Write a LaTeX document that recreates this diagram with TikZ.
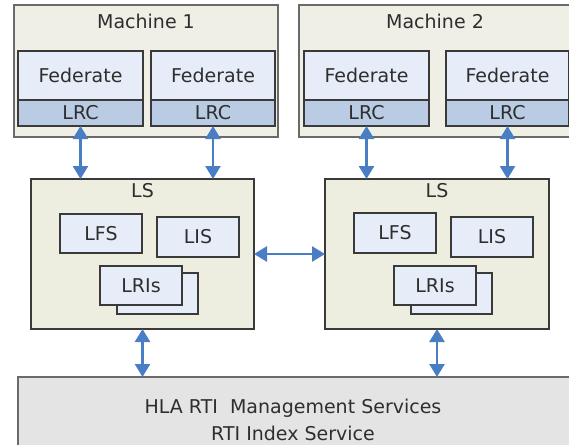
\documentclass[tikz,border=0pt]{standalone}
\usepackage{fontspec}
\setmainfont{DejaVu Sans}
\usetikzlibrary{arrows.meta}
\definecolor{machfill}{HTML}{EFEFE6}
\definecolor{lsfill}{HTML}{EEEEE0}
\definecolor{fedfill}{HTML}{E6ECF8}
\definecolor{lrcfill}{HTML}{B9CCE4}
\definecolor{rtifill}{HTML}{E4E4E4}
\definecolor{edgegray}{HTML}{6A6A6A}
\definecolor{edgedark}{HTML}{3A3A3A}
\definecolor{arrowblue}{HTML}{4A7EC4}
\definecolor{txt}{HTML}{2E2E2E}
\tikzset{
  base/.style={inner sep=0pt, outer sep=0pt, text=txt, font=\fontsize{19}{22}\selectfont},
  outerbox/.style={base, draw=edgegray, line width=1.8pt, fill=machfill},
  lsbox/.style={base, draw=edgedark, line width=1.5pt, fill=lsfill},
  fedbox/.style={base, draw=edgedark, line width=1.4pt, fill=fedfill},
  lrcbox/.style={base, draw=edgedark, line width=1.4pt, fill=lrcfill},
  rtibox/.style={base, draw=edgegray, line width=1.6pt, fill=rtifill},
  lbl/.style={base, align=center},
  link/.style={draw=arrowblue, line width=2.6pt,
    {Triangle[width=15pt,length=13pt]}-{Triangle[width=15pt,length=13pt]}}
}
\begin{document}
\begin{tikzpicture}[x=1pt,y=-1pt]
\useasboundingbox (0,0) rectangle (569,444);
\clip (0,0) rectangle (569,444);
% machines
\node[outerbox, minimum width=264pt, minimum height=132pt] (m1) at (146,71) {};
\node[lbl] (m1t) at (146,21) {Machine 1};
\node[outerbox, minimum width=272pt, minimum height=132pt] (m2) at (435,71) {};
\node[lbl] (m2t) at (435,21) {Machine 2};
% federates
\node[fedbox, minimum width=125pt, minimum height=49pt] (f11) at (80.5,75.5) {Federate};
\node[lrcbox, minimum width=125pt, minimum height=26pt] (l11) at (80.5,113) {LRC};
\node[fedbox, minimum width=124pt, minimum height=49pt] (f12) at (213,75.5) {Federate};
\node[lrcbox, minimum width=124pt, minimum height=26pt] (l12) at (213,113) {LRC};
\node[fedbox, minimum width=125pt, minimum height=49pt] (f21) at (366.5,75.5) {Federate};
\node[lrcbox, minimum width=125pt, minimum height=26pt] (l21) at (366.5,113) {LRC};
\node[fedbox, minimum width=123pt, minimum height=49pt] (f22) at (507.5,75.5) {Federate};
\node[lrcbox, minimum width=123pt, minimum height=26pt] (l22) at (507.5,113) {LRC};
% LS boxes
\node[lsbox, minimum width=223pt, minimum height=150pt] (ls1) at (142.5,254) {};
\node[lbl] (ls1t) at (142.5,191) {LS};
\node[lsbox, minimum width=224pt, minimum height=150pt] (ls2) at (437,254) {};
\node[lbl] (ls2t) at (437,191) {LS};
% inner services
\node[fedbox, minimum width=82pt, minimum height=39pt] (lfs1) at (101,233.5) {LFS};
\node[fedbox, minimum width=82pt, minimum height=40pt] (lis1) at (198,237) {LIS};
\node[fedbox, minimum width=81pt, minimum height=41pt] (lri1b) at (157.5,293.5) {};
\node[fedbox, minimum width=82pt, minimum height=39pt] (lri1) at (141,285.5) {LRIs};
\node[fedbox, minimum width=82pt, minimum height=40pt] (lfs2) at (395,233) {LFS};
\node[fedbox, minimum width=82pt, minimum height=40pt] (lis2) at (492,237) {LIS};
\node[fedbox, minimum width=81pt, minimum height=41pt] (lri2b) at (451.5,293.5) {};
\node[fedbox, minimum width=82pt, minimum height=39pt] (lri2) at (435,285.5) {LRIs};
% RTI
\node[rtibox, minimum width=554pt, minimum height=73pt] (rti) at (295,413.5) {};
\node[lbl, font=\fontsize{19}{27}\selectfont] (rtit) at (293,419.5) {HLA RTI\ \ Management Services\\RTI Index Service};
% connectors
\draw[link] (l11.south) -- (l11.south |- ls1.north);
\draw[link] (l12.south) -- (l12.south |- ls1.north);
\draw[link] (l21.south) -- (l21.south |- ls2.north);
\draw[link] (l22.south) -- (l22.south |- ls2.north);
\draw[link] (ls1.east) -- (ls2.west);
\draw[link] (ls1.south) -- (ls1.south |- rti.north);
\draw[link] (ls2.south) -- (ls2.south |- rti.north);
\end{tikzpicture}
\end{document}
